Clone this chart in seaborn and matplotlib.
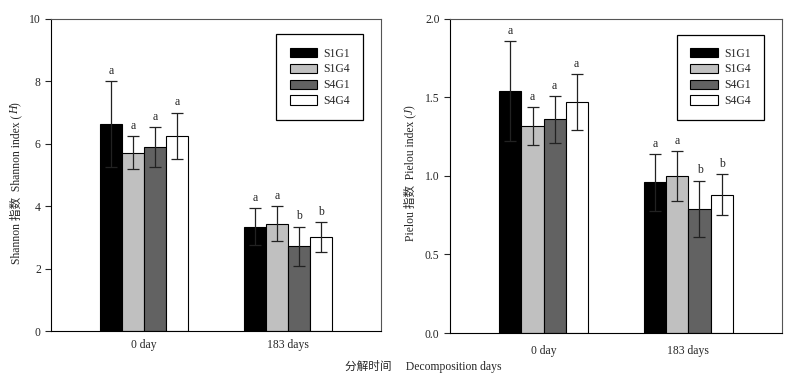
import pandas as pd
import matplotlib
matplotlib.use("Agg")
import matplotlib.pyplot as plt
import seaborn as sns

days = ["0 day", "183 days"]
groups = ["S1G1", "S1G4", "S4G1", "S4G4"]
colors = ["#000000", "#c0c0c0", "#626262", "#ffffff"]

# values ordered as groups, for each day
shannon_0 = [6.62, 5.72, 5.89, 6.26]
shannon_183 = [3.35, 3.44, 2.72, 3.01]
shannon_err_0 = [1.38, 0.53, 0.64, 0.74]
shannon_err_183 = [0.59, 0.57, 0.63, 0.48]
shannon_sig_0 = ["a", "a", "a", "a"]
shannon_sig_183 = ["a", "a", "b", "b"]

pielou_0 = [1.54, 1.32, 1.36, 1.47]
pielou_183 = [0.96, 1.00, 0.79, 0.88]
pielou_err_0 = [0.32, 0.12, 0.15, 0.18]
pielou_err_183 = [0.18, 0.16, 0.18, 0.13]
pielou_sig_0 = ["a", "a", "a", "a"]
pielou_sig_183 = ["a", "a", "b", "b"]

FS = 8.4


def make_df(v0, v183, e0, e183, s0, s183):
    rows = []
    for day, vals, errs, sigs in [(days[0], v0, e0, s0), (days[1], v183, e183, s183)]:
        for g, v, e, s in zip(groups, vals, errs, sigs):
            rows.append({"day": day, "group": g, "value": v, "err": e, "sig": s})
    return pd.DataFrame(rows)


sns.set_style("ticks")
plt.rcParams["font.family"] = ["Liberation Serif", "Noto Sans CJK SC", "DejaVu Sans"]
plt.rcParams["font.size"] = FS

fig = plt.figure(figsize=(8, 3.85), dpi=100)
ax1 = fig.add_axes([0.064, 0.140, 0.4125, 0.811])
ax2 = fig.add_axes([0.5625, 0.135, 0.415, 0.816])


def draw(ax, df, ymax, yticks, fmt, ylabel_parts, xpad):
    sns.barplot(
        data=df, x="day", y="value", hue="group", order=days, hue_order=groups,
        palette=colors, edgecolor="black", linewidth=0.8, width=0.61,
        errorbar=None, saturation=1, ax=ax,
    )
    bars = sorted([p for p in ax.patches if p.get_width() > 0], key=lambda p: p.get_x())
    rows = df.sort_values(["day", "group"], key=lambda s: s.map(
        {d: i for i, d in enumerate(days)} | {g: i for i, g in enumerate(groups)}))
    for p, (_, r) in zip(bars, rows.iterrows()):
        xc = p.get_x() + p.get_width() / 2
        ax.errorbar(xc, r["value"], yerr=r["err"], fmt="none", ecolor="#222222",
                    elinewidth=0.9, capsize=4.5, capthick=0.9, zorder=3)
        ax.annotate(r["sig"], (xc, r["value"] + r["err"]), xytext=(0, 3),
                    textcoords="offset points", ha="center", va="bottom", fontsize=FS)

    ax.set_xlim(-0.646, 1.646)
    ax.set_ylim(0, ymax)
    ax.set_yticks(yticks)
    ax.set_yticklabels([fmt.format(t) for t in yticks])
    ax.set_xlabel("")
    ax.set_ylabel("")
    ax.tick_params(axis="x", length=0, labelsize=FS, pad=xpad)
    ax.tick_params(axis="y", length=4, width=0.8, labelsize=FS, direction="out")
    for side in ["left", "bottom"]:
        ax.spines[side].set_color("black")
        ax.spines[side].set_linewidth(0.8)
    for side in ["top", "right"]:
        ax.spines[side].set_visible(True)
        ax.spines[side].set_color("#555555")
        ax.spines[side].set_linewidth(0.8)

    sns.move_legend(
        ax, "upper right", bbox_to_anchor=(0.945, 0.95), title=None, frameon=True,
        fancybox=False, edgecolor="black", framealpha=1, fontsize=FS,
        handlelength=2.35, handleheight=0.85, handletextpad=0.55,
        borderpad=1.12, labelspacing=0.33, borderaxespad=0,
    )
    ax.get_legend().get_frame().set_linewidth(0.9)

    # y label with italic index symbol
    t1 = ax.text(ylabel_parts[2], ylabel_parts[3], ylabel_parts[0], transform=ax.transAxes,
                 rotation=90, ha="center", va="center", fontsize=FS)
    t2 = ax.annotate(ylabel_parts[1], xy=(0.5, 1), xycoords=t1, rotation=90,
                     ha="center", va="bottom", fontsize=FS, style="italic")
    ax.annotate(")", xy=(0.5, 1), xycoords=t2, rotation=90,
                ha="center", va="bottom", fontsize=FS)


df1 = make_df(shannon_0, shannon_183, shannon_err_0, shannon_err_183,
              shannon_sig_0, shannon_sig_183)
df2 = make_df(pielou_0, pielou_183, pielou_err_0, pielou_err_183,
              pielou_sig_0, pielou_sig_183)

draw(ax1, df1, 10, [0, 2, 4, 6, 8, 10], "{:g}",
     ("Shannon 指数  Shannon index (", "H", -0.108, 0.455), 6)
draw(ax2, df2, 2.0, [0.0, 0.5, 1.0, 1.5, 2.0], "{:.1f}",
     ("Pielou 指数  Pielou index (", "J", -0.12, 0.495), 8.5)

fig.text(0.529, 0.048, "分解时间     Decomposition days", ha="center", va="center",
         fontsize=FS)

fig.savefig("out.png", dpi=100)
